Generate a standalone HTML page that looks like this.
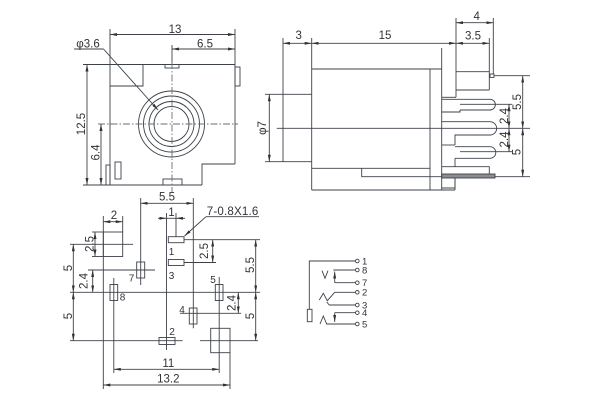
<!DOCTYPE html>
<html><head><meta charset="utf-8"><style>
html,body{margin:0;padding:0;background:#fff;}
svg{display:block;}
text{font-family:"Liberation Sans",Arial,sans-serif;fill:#333;}
</style></head><body>
<svg width="600" height="400" viewBox="0 0 600 400" xmlns="http://www.w3.org/2000/svg">
<defs>
<marker id="ar" viewBox="0 0 7 3" refX="7" refY="1.5" markerWidth="7" markerHeight="3" markerUnits="userSpaceOnUse" orient="auto-start-reverse"><path d="M0 0L7 1.5L0 3z" fill="#333"/></marker>
</defs>
<rect width="600" height="400" fill="#fff"/>
<g stroke="#3d4148" stroke-width="0.9" fill="none">
<!-- ===== Top-left view ===== -->
<line x1="110" y1="34.5" x2="235" y2="34.5" marker-start="url(#ar)" marker-end="url(#ar)"/>
<line x1="172" y1="49" x2="235" y2="49" marker-start="url(#ar)" marker-end="url(#ar)"/>
<line x1="110" y1="29" x2="110" y2="185"/>
<line x1="235" y1="29" x2="235" y2="164"/>
<line x1="172" y1="45" x2="172" y2="64.5"/>
<line x1="83" y1="64.5" x2="235" y2="64.5"/>
<rect x="235" y="67" width="5" height="19"/>
<path d="M110 86H143V64.5"/>
<path d="M235 164H202V185"/>
<line x1="83" y1="185" x2="202" y2="185"/>
<rect x="165" y="64.5" width="14" height="3.5"/>
<rect x="163" y="179" width="19" height="6"/>
<rect x="106" y="165" width="4" height="20"/>
<rect x="115" y="162" width="6" height="17"/>
<circle cx="171.5" cy="124" r="33"/>
<circle cx="171.5" cy="124" r="28"/>
<circle cx="171.5" cy="124" r="22.5"/>
<circle cx="171.5" cy="124" r="17.5"/>
<line x1="98" y1="124" x2="238" y2="124" stroke="#6a6e75" stroke-dasharray="7 2 1.5 2"/>
<line x1="172" y1="62" x2="172" y2="192" stroke="#6a6e75" stroke-dasharray="7 2 1.5 2"/>
<line x1="87" y1="64.5" x2="87" y2="185" marker-start="url(#ar)" marker-end="url(#ar)"/>
<line x1="101" y1="124" x2="101" y2="185" marker-start="url(#ar)" marker-end="url(#ar)"/>
<line x1="74" y1="49" x2="103.5" y2="49"/>
<line x1="103.5" y1="49" x2="158" y2="110" marker-end="url(#ar)"/>

<!-- ===== Top-right view ===== -->
<line x1="283" y1="43.3" x2="311.7" y2="43.3" marker-start="url(#ar)" marker-end="url(#ar)"/>
<line x1="311.7" y1="43.3" x2="456" y2="43.3" marker-start="url(#ar)" marker-end="url(#ar)"/>
<line x1="456" y1="43.3" x2="489.3" y2="43.3" marker-start="url(#ar)" marker-end="url(#ar)"/>
<line x1="456" y1="22.7" x2="493.3" y2="22.7" marker-start="url(#ar)" marker-end="url(#ar)"/>
<line x1="283" y1="38" x2="283" y2="161.7"/>
<line x1="311.7" y1="38" x2="311.7" y2="190"/>
<line x1="456" y1="18" x2="456" y2="97.3"/>
<line x1="489.3" y1="38" x2="489.3" y2="90"/>
<line x1="493.3" y1="18" x2="493.3" y2="74"/>
<line x1="311.7" y1="69" x2="441.7" y2="69"/>
<line x1="456" y1="71.7" x2="489.3" y2="71.7"/>
<line x1="456" y1="90" x2="489.3" y2="90"/>
<line x1="441.7" y1="97.3" x2="456" y2="97.3"/>
<line x1="441.7" y1="48" x2="441.7" y2="190"/>
<line x1="430" y1="69" x2="430" y2="190"/>
<line x1="311.7" y1="190" x2="455" y2="190"/>
<line x1="455" y1="178" x2="455" y2="190"/>
<path d="M265 94.3H311.7"/>
<path d="M265 161.7H311.7"/>
<line x1="269.3" y1="94.3" x2="269.3" y2="161.7" marker-start="url(#ar)" marker-end="url(#ar)"/>
<line x1="276.7" y1="128.3" x2="476.7" y2="128.3"/>
<line x1="311.7" y1="168.3" x2="430" y2="168.3"/>
<path d="M361.7 168.3V176.7H441.7"/>
<!-- pins -->
<path d="M441.7 99.3H490A5.3 5.3 0 0 1 490 110H460"/>
<path d="M460 104.3H489"/>
<path d="M441.7 112H460V110"/>
<path d="M441.7 121.7H490A6.6 6.6 0 0 1 490 135H455V145"/>
<path d="M441.7 145H455"/>
<path d="M455 146.7H490A5.8 5.8 0 0 1 490 158.3H455"/>
<path d="M460 151.7H489"/>
<path d="M455 158.3V166.7"/>
<path d="M441.7 166.7H489.3V174"/>
<rect x="441.7" y="174" width="53.3" height="4" fill="#8a8d92"/>
<path d="M455 178V188H441.7"/>
<rect x="490" y="74" width="4" height="3.4"/>
<!-- right dims -->
<line x1="494" y1="75.7" x2="530" y2="75.7"/>
<line x1="476.7" y1="128.3" x2="530" y2="128.3"/>
<line x1="495" y1="176.7" x2="530" y2="176.7"/>
<line x1="489" y1="104.3" x2="512" y2="104.3"/>
<line x1="489" y1="151.7" x2="512" y2="151.7"/>
<line x1="522.7" y1="75.7" x2="522.7" y2="128.3" marker-start="url(#ar)" marker-end="url(#ar)"/>
<line x1="522.7" y1="128.3" x2="522.7" y2="176.7" marker-start="url(#ar)" marker-end="url(#ar)"/>
<line x1="509" y1="104.3" x2="509" y2="128.3" marker-start="url(#ar)" marker-end="url(#ar)"/>
<line x1="509" y1="128.3" x2="509" y2="151.7" marker-start="url(#ar)" marker-end="url(#ar)"/>

<!-- ===== Bottom-left view ===== -->
<line x1="140.7" y1="203.3" x2="193.3" y2="203.3" marker-start="url(#ar)" marker-end="url(#ar)"/>
<line x1="140.7" y1="198" x2="140.7" y2="285"/>
<line x1="193.3" y1="198" x2="193.3" y2="328.3"/>
<line x1="158" y1="218.3" x2="166.5" y2="218.3" marker-end="url(#ar)"/>
<line x1="185" y1="218.3" x2="176" y2="218.3" marker-end="url(#ar)"/>
<line x1="166.5" y1="218.3" x2="176" y2="218.3"/>
<line x1="166.5" y1="213" x2="166.5" y2="350"/>
<line x1="176" y1="213" x2="176" y2="236.7"/>
<rect x="168.3" y="236.7" width="15.7" height="6"/>
<rect x="168.3" y="259.5" width="15.7" height="6"/>
<line x1="206" y1="216.7" x2="259" y2="216.7"/>
<line x1="206" y1="216.7" x2="184.5" y2="236" marker-end="url(#ar)"/>
<line x1="184" y1="239.7" x2="260" y2="239.7"/>
<line x1="184" y1="262.5" x2="216" y2="262.5"/>
<line x1="212.7" y1="239.7" x2="212.7" y2="262.5" marker-start="url(#ar)" marker-end="url(#ar)"/>
<line x1="255.7" y1="239.7" x2="255.7" y2="292.3" marker-start="url(#ar)" marker-end="url(#ar)"/>
<line x1="255.7" y1="292.3" x2="255.7" y2="340.7" marker-start="url(#ar)" marker-end="url(#ar)"/>
<line x1="70" y1="292.3" x2="260" y2="292.3"/>
<line x1="70" y1="340.7" x2="182.7" y2="340.7"/>
<line x1="200" y1="340.7" x2="258" y2="340.7"/>
<rect x="136.7" y="262" width="8" height="16"/>
<line x1="88" y1="270" x2="155" y2="270"/>
<line x1="92.7" y1="270" x2="92.7" y2="292.3" marker-start="url(#ar)" marker-end="url(#ar)"/>
<rect x="110" y="284.5" width="7.7" height="16"/>
<line x1="113.8" y1="278" x2="113.8" y2="373"/>
<rect x="215.3" y="284.5" width="7.7" height="16"/>
<line x1="219.2" y1="277" x2="219.2" y2="373"/>
<rect x="189.3" y="308" width="7.7" height="16"/>
<line x1="180" y1="313.3" x2="241" y2="313.3"/>
<line x1="238.3" y1="292.3" x2="238.3" y2="313.3" marker-start="url(#ar)" marker-end="url(#ar)"/>
<rect x="159" y="337.5" width="16" height="7"/>
<rect x="103.3" y="232" width="19.4" height="24.5"/>
<line x1="70" y1="244.3" x2="133" y2="244.3"/>
<line x1="103.3" y1="221.7" x2="122.7" y2="221.7" marker-start="url(#ar)" marker-end="url(#ar)"/>
<line x1="103.3" y1="216" x2="103.3" y2="389"/>
<line x1="122.7" y1="216" x2="122.7" y2="232"/>
<line x1="92" y1="232" x2="103.3" y2="232"/>
<line x1="92" y1="256.5" x2="103.3" y2="256.5"/>
<line x1="95" y1="232" x2="95" y2="256.5" marker-start="url(#ar)" marker-end="url(#ar)"/>
<line x1="73.3" y1="244.3" x2="73.3" y2="292.3" marker-start="url(#ar)" marker-end="url(#ar)"/>
<line x1="73.3" y1="292.3" x2="73.3" y2="340.7" marker-start="url(#ar)" marker-end="url(#ar)"/>
<rect x="210.7" y="328.3" width="19.3" height="24.4"/>
<line x1="230" y1="352.7" x2="230" y2="389"/>
<line x1="113.8" y1="369.3" x2="219.2" y2="369.3" marker-start="url(#ar)" marker-end="url(#ar)"/>
<line x1="103.3" y1="385" x2="230" y2="385" marker-start="url(#ar)" marker-end="url(#ar)"/>

<!-- ===== Schematic ===== -->
<path d="M355.5 261H309.3V309.3"/>
<rect x="307.3" y="309.3" width="4.7" height="12.4"/>
<path d="M322 270.7L325 278.3L328 270.7"/>
<line x1="333.3" y1="270" x2="355.5" y2="270"/>
<line x1="334.7" y1="282.7" x2="334.7" y2="271.5" marker-end="url(#ar)"/>
<line x1="334.7" y1="282.7" x2="355.5" y2="282.7"/>
<path d="M319.3 300L323.3 293.3L327.3 300.7L334.7 292.3H355.5"/>
<path d="M326.7 302L329.3 305H355.5"/>
<path d="M320 324L323.3 316L326.7 324H355.5"/>
<line x1="334.7" y1="312.7" x2="355.5" y2="312.7"/>
<line x1="334.7" y1="312.7" x2="334.7" y2="322" marker-end="url(#ar)"/>
<circle cx="357.3" cy="261" r="1.8"/>
<circle cx="357.3" cy="270" r="1.8"/>
<circle cx="357.3" cy="282.7" r="1.8"/>
<circle cx="357.3" cy="292.3" r="1.8"/>
<circle cx="357.3" cy="305" r="1.8"/>
<circle cx="357.3" cy="312.7" r="1.8"/>
<circle cx="357.3" cy="324" r="1.8"/>
</g>

<!-- ===== Text ===== -->
<g font-size="11.5" text-anchor="middle">
<text x="175" y="33">13</text>
<text x="205" y="47.5">6.5</text>
<text x="88" y="47.3">φ3.6</text>
<text transform="translate(85,124) rotate(-90)">12.5</text>
<text transform="translate(99.5,152.5) rotate(-90)">6.4</text>

<text x="298.7" y="39">3</text>
<text x="385" y="39">15</text>
<text x="473" y="39.3">3.5</text>
<text x="476.7" y="20">4</text>
<text transform="translate(266,128) rotate(-90)">φ7</text>
<text transform="translate(521,102) rotate(-90)">5.5</text>
<text transform="translate(520.5,152) rotate(-90)">5</text>
<text transform="translate(508,116) rotate(-90)">2.4</text>
<text transform="translate(508,139.5) rotate(-90)">2.4</text>

<text x="167" y="200.5">5.5</text>
<text x="171.5" y="216">1</text>
<text x="114" y="219">2</text>
<text x="232.5" y="215" textLength="51.5">7-0.8X1.6</text>
<text transform="translate(93.5,244) rotate(-90)">2.5</text>
<text transform="translate(72,268) rotate(-90)">5</text>
<text transform="translate(72,316) rotate(-90)">5</text>
<text transform="translate(87.5,281) rotate(-90)">2.4</text>
<text transform="translate(208,251) rotate(-90)">2.5</text>
<text transform="translate(254,265) rotate(-90)">5.5</text>
<text transform="translate(254,316) rotate(-90)">5</text>
<text transform="translate(235.5,303) rotate(-90)">2.4</text>
<text x="168.3" y="367">11</text>
<text x="168.3" y="382.5">13.2</text>
</g>
<g font-size="10" text-anchor="middle">
<text x="171.5" y="255">1</text>
<text x="171.5" y="279">3</text>
<text x="131.5" y="281.5">7</text>
<text x="122.5" y="300.5">8</text>
<text x="213" y="283">5</text>
<text x="182" y="313">4</text>
<text x="172" y="335">2</text>
</g>
<g font-size="9.5">
<text x="362" y="264.3">1</text>
<text x="362" y="273.3">8</text>
<text x="362" y="286">7</text>
<text x="362" y="295.6">2</text>
<text x="362" y="308.3">3</text>
<text x="362" y="316">4</text>
<text x="362" y="327.3">5</text>
</g>
</svg>
</body></html>
